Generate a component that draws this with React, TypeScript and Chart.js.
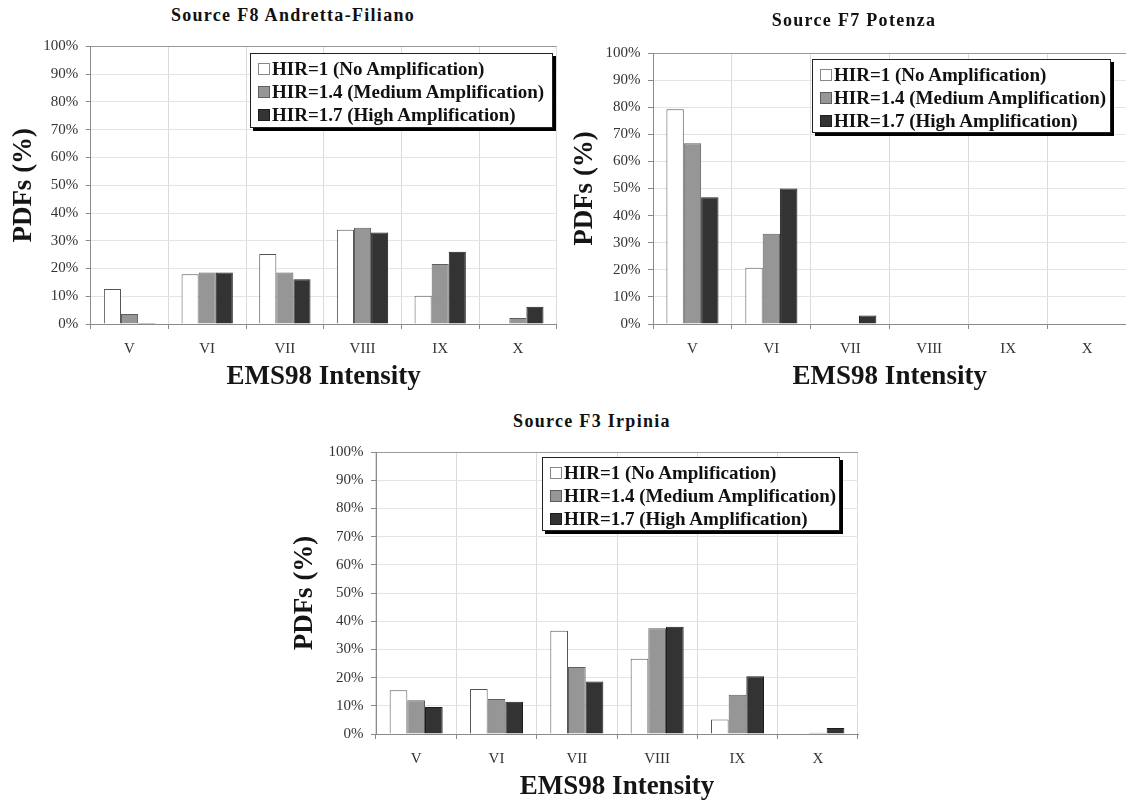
import React, { useEffect, useRef } from "react";
import { Chart, registerables } from "chart.js";

Chart.register(...registerables);

// ---------------- data ----------------
const CATEGORIES = ["V", "VI", "VII", "VIII", "IX", "X"];
const SERIES_LABELS = [
  "HIR=1 (No Amplification)",
  "HIR=1.4 (Medium Amplification)",
  "HIR=1.7 (High Amplification)",
];
const Y_TICK_STEP = 10;
const Y_MIN = 0;
const Y_MAX = 100;

// Source F8 Andretta-Filiano
const F8_HIR1 = [12.6, 17.9, 25.2, 34.0, 10.2, 0];
const F8_HIR14 = [3.6, 18.6, 18.6, 34.7, 21.6, 2.2];
const F8_HIR17 = [0.4, 18.6, 16.1, 33.0, 26.0, 6.2];

// Source F7 Potenza
const F7_HIR1 = [79.2, 20.8, 0, 0, 0, 0];
const F7_HIR14 = [66.7, 33.3, 0, 0, 0, 0];
const F7_HIR17 = [46.8, 50.0, 3.1, 0, 0, 0];

// Source F3 Irpinia
const F3_HIR1 = [15.5, 16.0, 36.6, 26.7, 5.1, 0];
const F3_HIR14 = [12.0, 12.4, 23.8, 37.5, 13.9, 0.4];
const F3_HIR17 = [9.6, 11.4, 18.6, 38.0, 20.5, 2.1];

// ---------------- styles ----------------
const FONT = "'Liberation Serif', 'Times New Roman', serif";
const SERIES_FILL = ["#ffffff", "#969696", "#333333"];
const SERIES_BORDER = ["#555555", "#5e5e5e", "#1e1e1e"];

type Rect = { left: number; top: number; width: number; height: number };
type Area = { left: number; top: number; right: number; bottom: number };

type PanelCfg = {
  title: string;
  titleCX: number;
  titleCY: number;
  canvas: Rect;
  area: Area;
  yTitlePad: number;
  xTitlePad: number;
  legend: Rect;
  series: number[][];
};

const PANELS: PanelCfg[] = [
  {
    title: "Source F8 Andretta-Filiano",
    titleCX: 293,
    titleCY: 15,
    canvas: { left: 0, top: 30, width: 580, height: 370 },
    area: { left: 90.7, top: 46, right: 556.7, bottom: 324 },
    yTitlePad: 7.8,
    xTitlePad: 6.8,
    legend: { left: 250, top: 53, width: 303, height: 75 },
    series: [F8_HIR1, F8_HIR14, F8_HIR17],
  },
  {
    title: "Source F7 Potenza",
    titleCX: 854,
    titleCY: 20,
    canvas: { left: 568, top: 30, width: 570, height: 370 },
    area: { left: 653, top: 53, right: 1126.5, bottom: 324 },
    yTitlePad: 0.8,
    xTitlePad: 6.8,
    legend: { left: 812, top: 59, width: 299, height: 74 },
    series: [F7_HIR1, F7_HIR14, F7_HIR17],
  },
  {
    title: "Source F3 Irpinia",
    titleCX: 592,
    titleCY: 421,
    canvas: { left: 286, top: 430, width: 600, height: 374 },
    area: { left: 376, top: 452, right: 858, bottom: 734 },
    yTitlePad: 2.8,
    xTitlePad: 0.8,
    legend: { left: 542, top: 457, width: 298, height: 74 },
    series: [F3_HIR1, F3_HIR14, F3_HIR17],
  },
];

function Panel({ cfg }: { cfg: PanelCfg }) {
  const ref = useRef<HTMLCanvasElement | null>(null);

  useEffect(() => {
    if (!ref.current) return;
    const cv = cfg.canvas;
    const area = cfg.area;
    const chart = new Chart(ref.current, {
      type: "bar",
      data: {
        labels: CATEGORIES,
        datasets: cfg.series.map((values, i) => ({
          label: SERIES_LABELS[i],
          data: values,
          backgroundColor: SERIES_FILL[i],
          borderColor: SERIES_BORDER[i],
          borderWidth: 1,
          categoryPercentage: 0.66,
          barPercentage: 1.0,
        })),
      },
      options: {
        responsive: false,
        animation: false,
        devicePixelRatio: 1,
        layout: {
          padding: {
            left: 0,
            top: area.top - cv.top,
            right: cv.left + cv.width - area.right,
            bottom: 0,
          },
        },
        plugins: {
          legend: { display: false },
          tooltip: { enabled: false },
          title: { display: false },
        },
        scales: {
          x: {
            type: "category",
            offset: true,
            grid: {
              offset: true,
              color: "#dcdcdc",
              tickColor: "#8a8a8a",
              tickLength: 5,
              lineWidth: 1,
            },
            border: { color: "#8a8a8a", width: 1 },
            ticks: {
              font: { family: FONT, size: 15 },
              color: "#333333",
              padding: 11,
              maxRotation: 0,
              autoSkip: false,
            },
            title: {
              display: true,
              text: "EMS98 Intensity",
              font: { family: FONT, size: 27, weight: "bold" },
              color: "#151515",
              padding: { top: 0, bottom: cfg.xTitlePad },
            },
            afterFit: (s: any) => {
              s.height = cv.top + cv.height - area.bottom;
            },
          },
          y: {
            min: Y_MIN,
            max: Y_MAX,
            grid: {
              color: (ctx: any) =>
                ctx.tick && ctx.tick.value === Y_MAX ? "#9a9a9a" : "#e4e4e4",
              tickColor: "#8a8a8a",
              tickLength: 5,
              lineWidth: 1,
            },
            border: { color: "#8a8a8a", width: 1 },
            ticks: {
              stepSize: Y_TICK_STEP,
              callback: (v: any) => v + "%",
              font: { family: FONT, size: 15 },
              color: "#333333",
              padding: 7.5,
            },
            title: {
              display: true,
              text: "PDFs (%)",
              font: { family: FONT, size: 27, weight: "bold" },
              color: "#151515",
              padding: { top: cfg.yTitlePad, bottom: 0 },
            },
            afterFit: (s: any) => {
              s.width = area.left - cv.left;
            },
          },
        },
      } as any,
    });
    return () => chart.destroy();
  }, [cfg]);

  const lg = cfg.legend;
  return (
    <>
      <div
        style={{
          position: "absolute",
          left: cfg.titleCX - 300,
          top: cfg.titleCY - 11,
          width: 600,
          height: 22,
          lineHeight: "22px",
          textAlign: "center",
          fontFamily: FONT,
          fontWeight: "bold",
          fontSize: 18,
          letterSpacing: "1.3px",
          color: "#111",
          whiteSpace: "nowrap",
        }}
      >
        {cfg.title}
      </div>
      <canvas
        ref={ref}
        width={cfg.canvas.width}
        height={cfg.canvas.height}
        style={{
          position: "absolute",
          left: cfg.canvas.left,
          top: cfg.canvas.top,
          width: cfg.canvas.width,
          height: cfg.canvas.height,
        }}
      />
      <div
        style={{
          position: "absolute",
          left: lg.left,
          top: lg.top,
          width: lg.width,
          height: lg.height,
          boxSizing: "border-box",
          border: "1px solid #222",
          boxShadow: "3px 3px 0 #000",
          background: "#ffffff",
          padding: "3px 0 0 7px",
          fontFamily: FONT,
          fontWeight: "bold",
          fontSize: 19,
          lineHeight: "23px",
          color: "#111",
          whiteSpace: "nowrap",
        }}
      >
        {SERIES_LABELS.map((label, i) => (
          <div key={label} style={{ display: "flex", alignItems: "center", height: 23 }}>
            <span
              style={{
                display: "inline-block",
                width: 12,
                height: 12,
                boxSizing: "border-box",
                background: SERIES_FILL[i],
                border: `1px solid ${i === 0 ? "#888" : SERIES_BORDER[i]}`,
                marginRight: 2,
                flex: "0 0 auto",
              }}
            />
            <span>{label}</span>
          </div>
        ))}
      </div>
    </>
  );
}

export default function App() {
  return (
    <div
      style={{
        position: "absolute",
        left: 0,
        top: 0,
        width: 1126,
        height: 802,
        overflow: "hidden",
        background: "#ffffff",
      }}
    >
      {PANELS.map((p) => (
        <Panel key={p.title} cfg={p} />
      ))}
    </div>
  );
}
